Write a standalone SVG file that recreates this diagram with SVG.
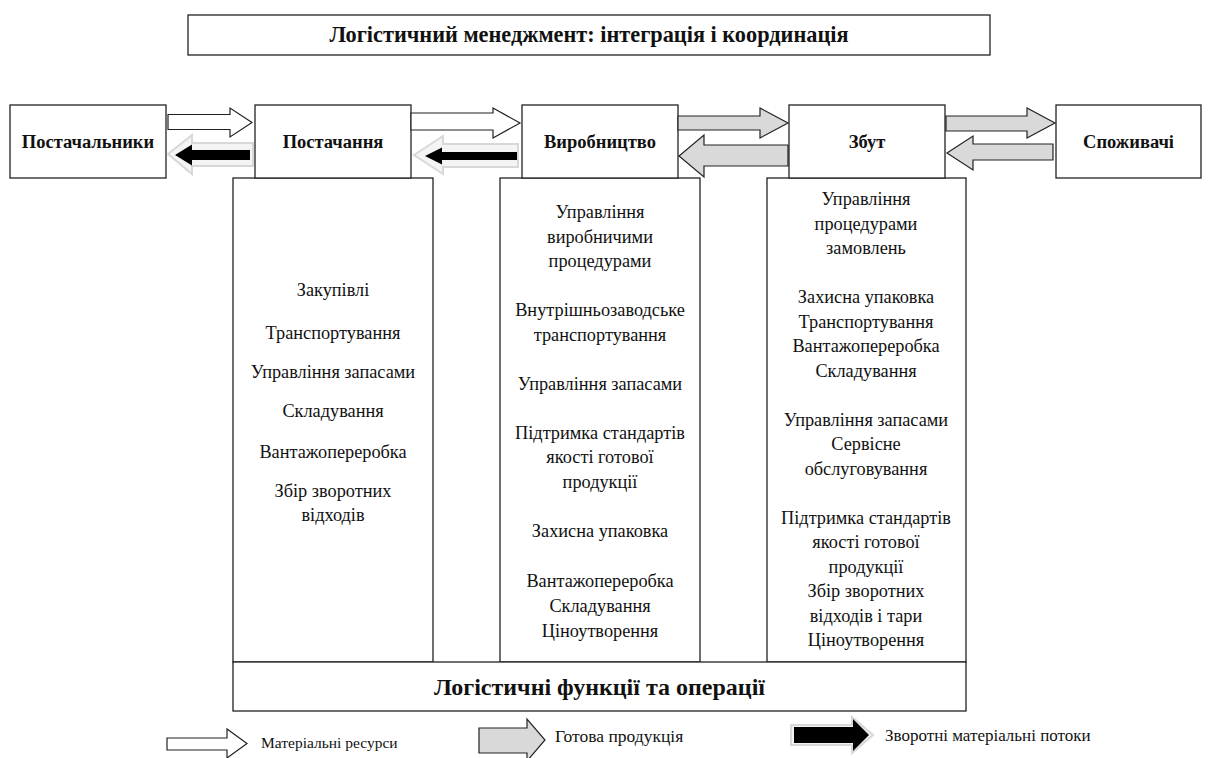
<svg xmlns="http://www.w3.org/2000/svg" width="1208" height="758" viewBox="0 0 1208 758">
<style>
.box{fill:#fff;stroke:#222;stroke-width:1.3}
.lbl{font-family:'Liberation Serif','DejaVu Serif','Times New Roman',serif;font-weight:bold;font-size:18.5px;fill:#111;text-anchor:middle}
.txt{font-family:'Liberation Serif','DejaVu Serif','Times New Roman',serif;font-size:18.3px;fill:#111;text-anchor:middle}
.leg{font-family:'Liberation Serif','DejaVu Serif','Times New Roman',serif;font-size:15.5px;fill:#111}
.aw{fill:#fff;stroke:#222;stroke-width:1.2}
.ag{fill:#d9d9d9;stroke:#222;stroke-width:1.2}
.ab{fill:#000;stroke:none}
.halo{fill:#f4f4f4;stroke:#d8d8d8;stroke-width:2}
</style>
<rect width="1208" height="758" fill="#fff"/>
<g id="title">
<rect class="box" x="188" y="15" width="802" height="40"/>
<text class="lbl" x="589" y="42" style="font-size:22.3px">Логістичний менеджмент: інтеграція і координація</text>
</g>
<g id="col-supply">
<rect class="box" x="233" y="178" width="200" height="484"/>
<text class="txt" x="333" y="296">Закупівлі</text>
<text class="txt" x="333" y="339">Транспортування</text>
<text class="txt" x="333" y="378">Управління запасами</text>
<text class="txt" x="333" y="417">Складування</text>
<text class="txt" x="333" y="458">Вантажопереробка</text>
<text class="txt" x="333" y="497">Збір зворотних</text>
<text class="txt" x="333" y="521">відходів</text>
</g>
<g id="col-production">
<rect class="box" x="500" y="178" width="200" height="484"/>
<text class="txt" x="600" y="218">Управління</text>
<text class="txt" x="600" y="242.5">виробничими</text>
<text class="txt" x="600" y="267">процедурами</text>
<text class="txt" x="600" y="316">Внутрішньозаводське</text>
<text class="txt" x="600" y="340.5">транспортування</text>
<text class="txt" x="600" y="389.5">Управління запасами</text>
<text class="txt" x="600" y="438.5">Підтримка стандартів</text>
<text class="txt" x="600" y="463">якості готової</text>
<text class="txt" x="600" y="487.5">продукції</text>
<text class="txt" x="600" y="536.5">Захисна упаковка</text>
<text class="txt" x="600" y="587">Вантажопереробка</text>
<text class="txt" x="600" y="612">Складування</text>
<text class="txt" x="600" y="637">Ціноутворення</text>
</g>
<g id="col-sales">
<rect class="box" x="767" y="178" width="199" height="484"/>
<text class="txt" x="866" y="205">Управління</text>
<text class="txt" x="866" y="229.5">процедурами</text>
<text class="txt" x="866" y="254">замовлень</text>
<text class="txt" x="866" y="303">Захисна упаковка</text>
<text class="txt" x="866" y="327.5">Транспортування</text>
<text class="txt" x="866" y="352">Вантажопереробка</text>
<text class="txt" x="866" y="376.5">Складування</text>
<text class="txt" x="866" y="425.5">Управління запасами</text>
<text class="txt" x="866" y="450">Сервісне</text>
<text class="txt" x="866" y="474.5">обслуговування</text>
<text class="txt" x="866" y="523.5">Підтримка стандартів</text>
<text class="txt" x="866" y="548">якості готової</text>
<text class="txt" x="866" y="572.5">продукції</text>
<text class="txt" x="866" y="597">Збір зворотних</text>
<text class="txt" x="866" y="621.5">відходів і тари</text>
<text class="txt" x="866" y="646">Ціноутворення</text>
</g>
<g id="functions">
<rect class="box" x="233" y="662" width="733" height="49"/>
<text class="lbl" x="599.5" y="695" style="font-size:24px">Логістичні функції та операції</text>
</g>
<g id="suppliers">
<rect class="box" x="10" y="105" width="156" height="73"/>
<text class="lbl" x="88" y="148">Постачальники</text>
</g>
<g id="supply">
<rect class="box" x="255" y="105" width="156" height="73"/>
<text class="lbl" x="333" y="148">Постачання</text>
</g>
<g id="production">
<rect class="box" x="522" y="105" width="156" height="73"/>
<text class="lbl" x="600" y="148">Виробництво</text>
</g>
<g id="sales">
<rect class="box" x="789" y="105" width="156" height="73"/>
<text class="lbl" x="867" y="148">Збут</text>
</g>
<g id="consumers">
<rect class="box" x="1056" y="105" width="145" height="73"/>
<text class="lbl" x="1128.5" y="148">Споживачі</text>
</g>
<g id="connectors">
<path class="aw" d="M168,114.5 H230 V108 L252,122.5 L230,137 V129.5 H168 Z"/>
<path class="halo" d="M168,154 L192,135 V143 H253 V166 H192 V174 Z"/>
<path class="ab" d="M175,155 L192,144.5 V150 H250 V160 H192 V165.5 Z"/>
<path class="aw" d="M411,113 H493 V108 L520,123 L493,138 V130 H411 Z"/>
<path class="halo" d="M414,155 L443,136 V144 H518 V167 H443 V174 Z"/>
<path class="ab" d="M425,156 L442,147.5 V152 H517 V160 H442 V164.5 Z"/>
<path class="ag" d="M678,116 H760 V108 L788,123 L760,138 V130 H678 Z"/>
<path class="ag" d="M788,145 H704 V135 L679,156 L704,177 V166 H788 Z"/>
<path class="ag" d="M946,116 H1027 V108 L1055,123 L1027,138 V131 H946 Z"/>
<path class="ag" d="M1053,144 H973 V136 L947,153 L973,170 V160 H1053 Z"/>
</g>
<g id="legend">
<path class="aw" d="M167,738 H227 V729 L247,743.5 L227,758 V750 H167 Z"/>
<text class="leg" x="261" y="748">Матеріальні ресурси</text>
<path class="ag" d="M479,728 H527 V719 L545,740 L527,761 V753 H479 Z"/>
<text class="leg" x="555" y="742" style="font-size:17.5px">Готова продукція</text>
<path class="halo" d="M791,725 H852 V717 L873,735 L852,753 V745 H791 Z"/>
<path class="ab" d="M794,727 H853 V719 L869,735 L853,751 V743 H794 Z"/>
<text class="leg" x="885" y="741" style="font-size:17px">Зворотні матеріальні потоки</text>
</g>
</svg>
